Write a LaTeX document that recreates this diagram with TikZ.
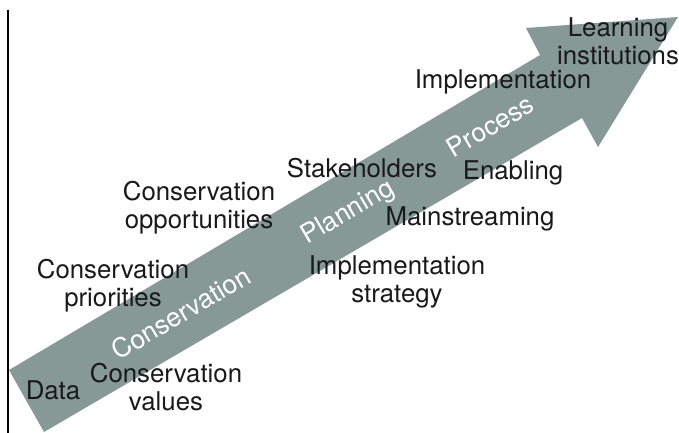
\documentclass[tikz,border=0pt]{standalone}
\usepackage{fontspec}
\setmainfont{TeX Gyre Heros}
\definecolor{arrowgray}{RGB}{134,153,149}

\begin{document}
\begin{tikzpicture}[x = 0.5pt, y = -0.5pt,
  lbl/.style = {align = center, text = black!90, font = \fontsize{12.9}{14}\selectfont, inner sep = 0pt},
  onarrow/.style = {text = white, rotate = 30.6, font = \fontsize{13.2}{15}\selectfont, inner sep = 0pt}]
\useasboundingbox (0,0) rectangle (679,433);
\draw [black, line width = 0.9pt] (8,10) -- (8,433);
\fill [arrowgray] (9,370) -- (540,55) -- (526,28) -- (678,17) -- (598,147) -- (582,118) -- (44,432) -- cycle;
\node [onarrow] (cons) at (181,313) {Conservation};
\node [onarrow] (plan) at (348,213) {Planning};
\node [onarrow] (proc) at (490,126) {Process};
\node [lbl] (data) at (53,390) {Data};
\node [lbl] (values) at (166,387) {Conservation\\values};
\node [lbl] (prior) at (113,286) {Conservation\\priorities};
\node [lbl] (oppor) at (199,208) {Conservation\\opportunities};
\node [lbl] (stake) at (362,168) {Stakeholders};
\node [lbl] (strat) at (397,282) {Implementation\\strategy};
\node [lbl] (main) at (470,219) {Mainstreaming};
\node [lbl] (enab) at (513,173) {Enabling};
\node [lbl] (impl) at (503,82) {Implementation};
\node [lbl] (learn) at (618,41) {Learning\\institutions};
\end{tikzpicture}
\end{document}
